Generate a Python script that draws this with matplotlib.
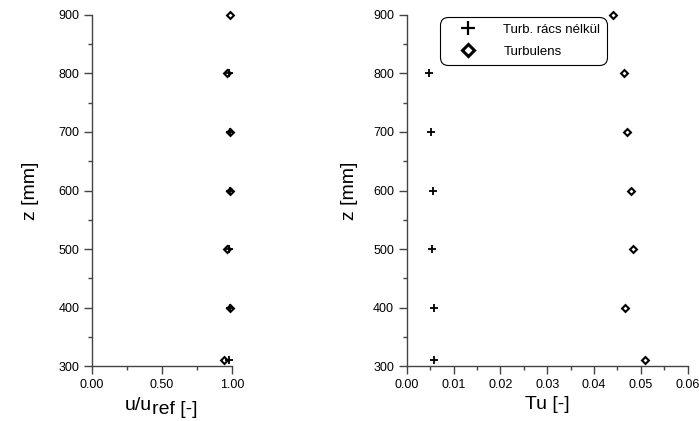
import matplotlib
matplotlib.use('Agg')
import matplotlib.pyplot as plt
from matplotlib.ticker import MultipleLocator, FormatStrFormatter
from matplotlib.lines import Line2D

plt.rcParams['font.family'] = ['Liberation Sans', 'DejaVu Sans']

# --- data ---
z_plus = [310, 400, 500, 600, 700, 800]
z_diam = [310, 400, 500, 600, 700, 800, 900]

u_plus = [0.980, 0.986, 0.980, 0.986, 0.986, 0.982]
u_diam = [0.943, 0.986, 0.962, 0.986, 0.986, 0.966, 0.983]

tu_plus = [0.0058, 0.0059, 0.0055, 0.0056, 0.0052, 0.0047]
tu_diam = [0.0509, 0.0466, 0.0483, 0.0478, 0.0471, 0.0463, 0.0440]

labels = ['Turb. rács nélkül', 'Turbulens']

fig = plt.figure(figsize=(6.99, 4.21), dpi=100)
ax1 = fig.add_axes([0.1316, 0.1306, 0.2003, 0.8338])
ax2 = fig.add_axes([0.5818, 0.1306, 0.4020, 0.8338])

plus_kw = dict(linestyle='none', marker='+', markersize=5.5, markeredgewidth=1.3,
               color='black', clip_on=False, zorder=3)
diam_kw = dict(linestyle='none', marker='D', markersize=3.5, markeredgewidth=1.5,
               markerfacecolor='white', markeredgecolor='black', clip_on=False, zorder=3)

LABEL_FS = 14
TICK_FS = 9


def style_axis(ax, label_x):
    for s in ['top', 'right']:
        ax.spines[s].set_visible(False)
    for s in ['left', 'bottom']:
        ax.spines[s].set_color('#444444')
        ax.spines[s].set_linewidth(1.0)
    ax.set_ylim(300, 900)
    ax.yaxis.set_major_locator(MultipleLocator(100))
    ax.yaxis.set_minor_locator(MultipleLocator(50))
    ax.tick_params(which='major', length=6, width=1.0, color='#444444', labelsize=TICK_FS, pad=3)
    ax.tick_params(which='minor', length=3, width=1.0, color='#444444')
    ax.set_ylabel('z [mm]', fontsize=LABEL_FS)
    ax.yaxis.set_label_coords(label_x, 0.5)


# left panel
ax1.plot(u_diam, z_diam, **diam_kw)
ax1.plot(u_plus, z_plus, **plus_kw)
style_axis(ax1, -0.375)
ax1.set_xlim(0, 1.0)
ax1.xaxis.set_major_locator(MultipleLocator(0.5))
ax1.xaxis.set_minor_locator(MultipleLocator(0.25))
ax1.xaxis.set_major_formatter(FormatStrFormatter('%.2f'))

# x label with a full-size, lowered "ref"
t1 = fig.text(125 / 699, 1 - 410 / 421, 'u/u', fontsize=LABEL_FS, ha='left', va='baseline')
ax1.annotate('ref [-]', xy=(1, 0), xycoords=t1, xytext=(0, -3),
             textcoords='offset points', fontsize=LABEL_FS, ha='left', va='bottom')

# right panel
ax2.plot(tu_plus, z_plus, **plus_kw)
ax2.plot(tu_diam, z_diam, **diam_kw)
style_axis(ax2, -0.175)
ax2.set_xlim(0, 0.06)
ax2.xaxis.set_major_locator(MultipleLocator(0.01))
ax2.xaxis.set_minor_locator(MultipleLocator(0.005))
ax2.xaxis.set_major_formatter(FormatStrFormatter('%.2f'))
ax2.set_xlabel('Tu [-]', fontsize=LABEL_FS, labelpad=4)

handles = [
    Line2D([], [], linestyle='none', marker='+', markersize=10, markeredgewidth=1.6, color='black'),
    Line2D([], [], linestyle='none', marker='D', markersize=6, markeredgewidth=2.2,
           markerfacecolor='white', markeredgecolor='black'),
]
leg = ax2.legend(handles, labels, loc='upper left', bbox_to_anchor=(0.1185, 0.994),
                 borderaxespad=0, fontsize=9.5, frameon=True, fancybox=True,
                 handlelength=3.2, handletextpad=1.1, borderpad=0.5, labelspacing=0.75)
frame = leg.get_frame()
frame.set_boxstyle('round,pad=0,rounding_size=0.6')
frame.set_edgecolor('black')
frame.set_linewidth(0.8)
frame.set_alpha(1)

fig.savefig('out.png', dpi=100)
